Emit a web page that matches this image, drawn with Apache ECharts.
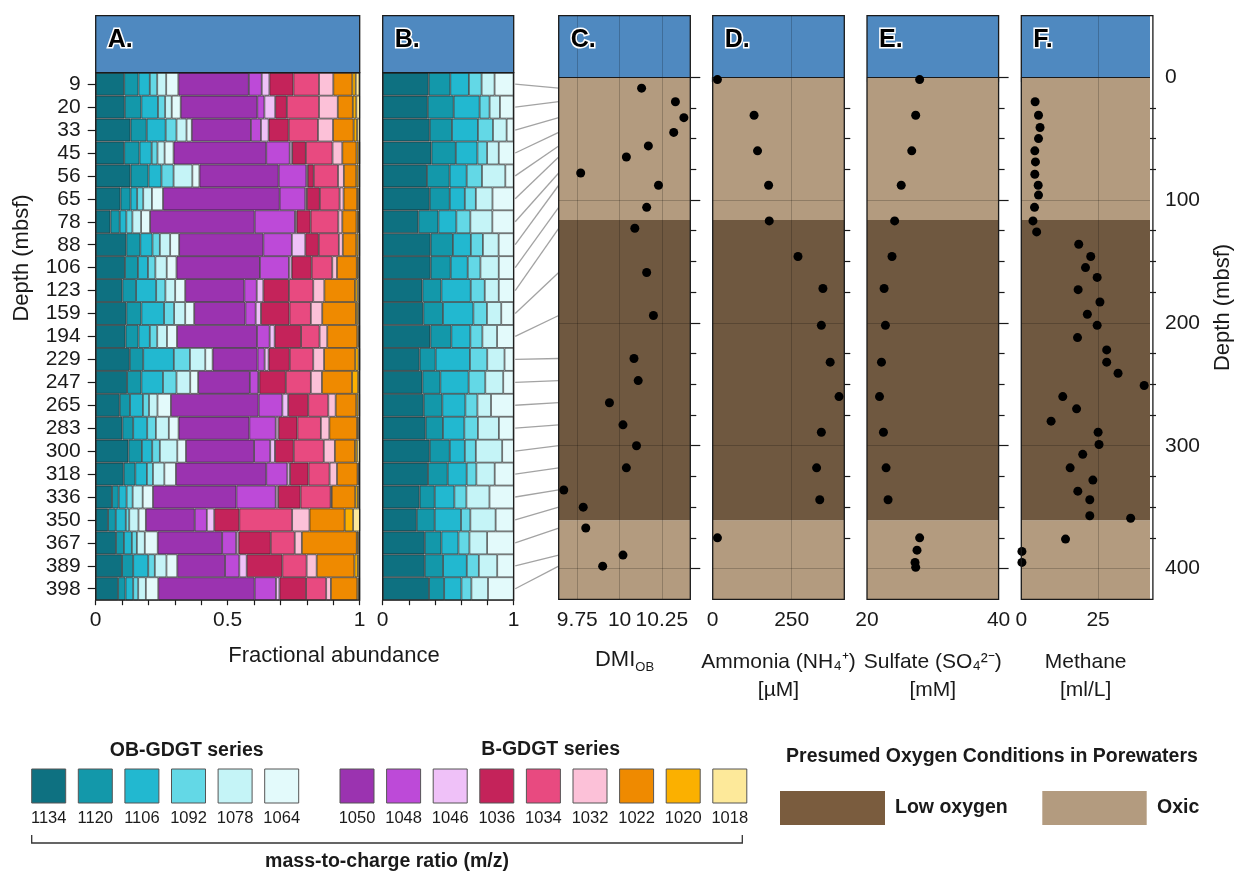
<!DOCTYPE html>
<html>
<head>
<meta charset="utf-8">
<script src="https://cdn.jsdelivr.net/npm/echarts@6/dist/echarts.min.js"></script>
<style>
  html, body { margin: 0; padding: 0; background: #ffffff; }
  #chart { width: 1235px; height: 877px; }
</style>
</head>
<body>
<div id="chart"></div>
<script>
const FONT = '"Liberation Sans", Arial, Helvetica, sans-serif';

// ---- sample depths (mbsf) ----
const depthLabels = ['9','20','33','45','56','65','78','88','106','123','159','194','229','247','265','283','300','318','336','350','367','389','398'];
const sampleDepths = [9,20,33,45,56,65,78,88,106,123,159,194,229,247,265,283,300,318,336,350,367,389,398];

// ---- A: fractional abundance of all GDGTs, by m/z ----
const a1134 = [.108,.110,.132,.108,.132,.094,.056,.116,.111,.101,.116,.113,.129,.119,.091,.101,.124,.106,.062,.047,.077,.100,.085];
const a1120 = [.054,.063,.061,.058,.068,.038,.035,.053,.049,.052,.057,.049,.051,.054,.039,.041,.051,.044,.025,.029,.030,.042,.028];
const a1106 = [.043,.063,.072,.046,.049,.025,.025,.046,.038,.076,.086,.043,.116,.082,.049,.053,.039,.044,.030,.038,.030,.057,.029];
const a1092 = [.028,.027,.041,.022,.046,.023,.023,.028,.028,.035,.038,.028,.061,.051,.023,.033,.029,.023,.023,.013,.019,.025,.019];
const a1078 = [.034,.025,.038,.027,.071,.033,.033,.039,.043,.037,.042,.037,.058,.052,.032,.049,.066,.043,.038,.035,.030,.044,.029];
const a1064 = [.046,.034,.020,.034,.027,.042,.034,.034,.037,.038,.034,.038,.028,.030,.051,.037,.033,.044,.039,.028,.049,.041,.047];
const a1050 = [.267,.290,.224,.351,.300,.442,.396,.319,.316,.224,.194,.303,.170,.196,.332,.268,.258,.342,.316,.185,.244,.181,.365];
const a1048 = [.049,.027,.038,.089,.105,.097,.153,.108,.110,.047,.039,.048,.027,.032,.090,.100,.061,.080,.149,.046,.053,.054,.081];
const a1046 = [.029,.041,.029,.009,.005,.006,.006,.051,.010,.025,.020,.019,.015,.004,.022,.010,.018,.010,.009,.028,.009,.028,.013];
const a1036 = [.091,.044,.076,.052,.023,.049,.053,.051,.076,.097,.108,.100,.080,.100,.076,.072,.071,.070,.085,.095,.122,.135,.101];
const a1034 = [.097,.122,.111,.101,.092,.075,.105,.076,.078,.092,.081,.070,.089,.095,.076,.089,.114,.080,.114,.200,.091,.092,.076];
const a1032 = [.054,.071,.057,.037,.022,.015,.015,.015,.018,.042,.043,.029,.041,.042,.028,.032,.042,.028,.004,.066,.027,.038,.018];
const a1022 = [.072,.057,.078,.054,.047,.051,.054,.051,.075,.116,.128,.114,.118,.114,.078,.105,.076,.078,.089,.133,.208,.143,.100];
const a1020 = [.013,.013,.013,.008,.008,.006,.006,.008,.006,.010,.008,.006,.013,.023,.008,.006,.009,.004,.010,.032,.006,.013,.006];
const a1018 = [.014,.014,.010,.006,.006,.004,.004,.006,.004,.006,.006,.004,.006,.006,.006,.004,.010,.004,.006,.027,.004,.006,.004];

// ---- B: fractional abundance within the OB-GDGT series ----
const b1134 = [.351,.344,.359,.372,.338,.359,.272,.366,.366,.303,.310,.364,.282,.303,.313,.328,.359,.346,.282,.260,.321,.321,.354];
const b1120 = [.165,.198,.170,.186,.173,.153,.153,.170,.153,.145,.150,.160,.122,.137,.142,.132,.153,.150,.115,.137,.127,.140,.115];
const b1106 = [.142,.198,.198,.165,.130,.115,.137,.137,.130,.224,.232,.145,.262,.216,.176,.163,.115,.145,.150,.201,.130,.181,.132];
const b1092 = [.097,.076,.115,.074,.117,.084,.107,.092,.097,.107,.104,.092,.132,.127,.092,.104,.084,.074,.092,.071,.084,.092,.076];
const b1078 = [.099,.079,.104,.089,.178,.127,.168,.120,.140,.107,.109,.112,.132,.137,.104,.160,.201,.140,.176,.193,.135,.140,.127];
const b1064 = [.145,.104,.053,.115,.064,.163,.163,.115,.115,.115,.094,.127,.069,.079,.173,.112,.089,.145,.186,.137,.204,.127,.196];

// ---- C: DMI_OB at each sample depth ----
const dmiOB = [10.13,10.33,10.38,10.32,10.17,10.04,9.77,10.23,10.16,10.09,10.16,10.20,10.085,10.11,9.94,10.02,10.10,10.04,9.67,9.785,9.80,10.02,9.90];

// ---- D–F: porewater profiles ----
const ammoniaDepth = [2,31,60,88,117,146,172,202,232,260,289,318,344,375];
const ammonia      = [15,131,142,177,179,270,349,344,372,400,344,329,339,15];
const sulfateDepth = [2,31,60,88,117,146,172,202,232,260,289,318,344,375,385,395,399];
const sulfate      = [28.0,27.4,26.8,25.2,24.2,23.8,22.6,22.8,22.2,21.9,22.5,22.9,23.2,28.0,27.6,27.3,27.4];
const methaneDepth = [20,31,41,50,60,69,79,88,96,106,117,126,136,146,155,163,173,183,193,202,212,222,232,241,251,260,270,280,289,299,307,318,328,337,344,357,359,376,386,395];
const methane      = [4.5,5.6,6.1,5.6,4.4,4.6,4.4,5.5,5.6,4.3,3.8,5.0,18.7,22.6,20.9,24.7,18.5,25.6,21.5,24.7,18.3,27.8,27.8,31.5,40.0,13.5,18.0,9.7,25.0,25.3,20.0,15.9,23.3,18.4,22.3,22.3,35.6,14.4,0.2,0.2];

// ---- oxygen zones (depth ranges, mbsf) ----
const oxicZones = [[0, 116.3], [360.7, 425]];
const lowOxygenZones = [[116.3, 360.7]];

// ---- tick labels ----
const fracLabelsA = [0, 0.5, 1];
const fracLabelsB = [0, 1];
const dmiLabels = [9.75, 10, 10.25];
const ammoniaLabels = [0, 250];
const sulfateLabels = [20, 40];
const methaneLabels = [0, 25];
const depthLabelsRight = [0, 100, 200, 300, 400];

// ---- m/z series ----
const obSeries = [
  { mz: '1134', color: '#0e7181', a: a1134, b: b1134 },
  { mz: '1120', color: '#1398aa', a: a1120, b: b1120 },
  { mz: '1106', color: '#22b8d0', a: a1106, b: b1106 },
  { mz: '1092', color: '#63d8e6', a: a1092, b: b1092 },
  { mz: '1078', color: '#c5f4f7', a: a1078, b: b1078 },
  { mz: '1064', color: '#e3fafb', a: a1064, b: b1064 }
];
const brSeries = [
  { mz: '1050', color: '#9b33b0', a: a1050 },
  { mz: '1048', color: '#bd4ad8', a: a1048 },
  { mz: '1046', color: '#efc1f8', a: a1046 },
  { mz: '1036', color: '#c4235a', a: a1036 },
  { mz: '1034', color: '#e84a80', a: a1034 },
  { mz: '1032', color: '#fcc1d8', a: a1032 },
  { mz: '1022', color: '#ef8a00', a: a1022 },
  { mz: '1020', color: '#fbb000', a: a1020 },
  { mz: '1018', color: '#fde99a', a: a1018 }
];

const HEADER_BLUE = '#4f89c0';
const OXIC = '#b39b7f';
const LOW_OX = '#6f5840';
const LOW_OX_KEY = '#7a5c3e';
const INK = '#1a1a1a';

// ---- layout ----
const headTop = 15.7;
const gridA = { left: 95.7, top: 72.7, width: 264, height: 527.5 };
const gridB = { left: 382.7, top: 72.7, width: 131, height: 527.5 };
const profTop = 15.7, profHeight = 583.6;
const profLefts = [558.7, 712.7, 867, 1021.3];
const profWidth = 131.6;

function steps(a, b, s) {
  const out = [];
  for (let v = a; v <= b + 1e-9; v += s) out.push(+v.toFixed(4));
  return out;
}
const fmt = v => String(+(+v).toFixed(2));

const grids = [
  gridA, gridB,
  ...profLefts.map(l => ({ left: l, top: profTop, width: profWidth, height: profHeight }))
];

const tickStyle = { lineStyle: { color: INK, width: 1.2 } };
const labelStyle = { fontFamily: FONT, fontSize: 21, color: INK };

function xAxisDef(gridIndex, min, max, tickVals, labelVals, name, nameGap, nameStyle) {
  return {
    type: 'value', gridIndex, min, max,
    axisLine: { show: false },
    splitLine: { show: false },
    axisTick: Object.assign({ show: true, length: 5, customValues: tickVals }, tickStyle),
    axisLabel: Object.assign({ customValues: labelVals, formatter: fmt, margin: 10 }, labelStyle),
    name, nameLocation: 'middle', nameGap,
    nameTextStyle: Object.assign({ fontFamily: FONT, fontSize: 21, color: INK, lineHeight: 28 }, nameStyle || {})
  };
}

const xAxes = [
  xAxisDef(0, 0, 1, steps(0, 1, 0.1), fracLabelsA, '', 44),
  xAxisDef(1, 0, 1, steps(0, 1, 0.2), fracLabelsB, '', 40),
  xAxisDef(2, 9.64, 10.418, steps(9.65, 10.4, 0.05), dmiLabels, '{m|DMI}{s|OB}', 47, {
    rich: {
      m: { fontFamily: FONT, fontSize: 22, color: INK, lineHeight: 28 },
      s: { fontFamily: FONT, fontSize: 13, color: INK, verticalAlign: 'bottom', lineHeight: 12 }
    }
  }),
  xAxisDef(3, 0, 416.7, steps(0, 400, 50), ammoniaLabels, 'Ammonia (NH\u2084\u207A)\n[\u00B5M]', 49),
  xAxisDef(4, 20, 40, steps(20, 40, 5), sulfateLabels, 'Sulfate (SO\u2084\u00B2\u207B)\n[mM]', 49),
  xAxisDef(5, 0, 41.9, steps(0, 40, 5), methaneLabels, 'Methane\n[ml/L]', 49)
];

const minorDepth = steps(25, 375, 25).filter(v => v % 100 !== 0);

const yAxes = [
  {
    type: 'category', gridIndex: 0, data: depthLabels, inverse: true,
    axisLine: { show: false },
    axisTick: Object.assign({ show: true, alignWithLabel: true, interval: 0, length: 8 }, tickStyle),
    axisLabel: Object.assign({ margin: 15, interval: 0 }, labelStyle)
  },
  {
    type: 'category', gridIndex: 1, data: depthLabels, inverse: true,
    axisLine: { show: false }, axisTick: { show: false }, axisLabel: { show: false }
  }
];
// major depth ticks (labels only on the last panel) and minor depth ticks, per profile panel
for (let p = 0; p < 4; p++) {
  yAxes.push({
    type: 'value', gridIndex: 2 + p, min: -50, max: 425, inverse: true, position: 'right',
    axisLine: { show: false }, splitLine: { show: false },
    axisTick: Object.assign({ show: true, length: p === 3 ? 12 : 10, customValues: depthLabelsRight }, tickStyle),
    axisLabel: Object.assign({ show: p === 3, customValues: depthLabelsRight, margin: 15 }, labelStyle),
    name: p === 3 ? 'Depth (mbsf)' : '', nameLocation: 'middle', nameGap: 62, nameRotate: 90,
    nameTextStyle: { fontFamily: FONT, fontSize: 22, color: INK }
  });
}
for (let p = 0; p < 4; p++) {
  yAxes.push({
    type: 'value', gridIndex: 2 + p, min: -50, max: 425, inverse: true, position: 'right',
    axisLine: { show: false }, splitLine: { show: false },
    axisTick: Object.assign({ show: true, length: 6, customValues: minorDepth }, tickStyle),
    axisLabel: { show: false }
  });
}

const series = [];
const barBorder = { borderColor: 'rgba(35,35,35,0.8)', borderWidth: 0.8 };

[...obSeries, ...brSeries].forEach(s => {
  series.push({
    type: 'bar', name: s.mz, stack: 'all', xAxisIndex: 0, yAxisIndex: 0,
    barWidth: '100%', data: s.a,
    itemStyle: Object.assign({ color: s.color }, barBorder)
  });
});
obSeries.forEach(s => {
  series.push({
    type: 'bar', name: s.mz + ' OB', stack: 'ob', xAxisIndex: 1, yAxisIndex: 1,
    barWidth: '100%', data: s.b,
    itemStyle: Object.assign({ color: s.color }, barBorder)
  });
});

// profile panels: background zones, grid lines, points
const profiles = [
  { x: dmiOB, y: sampleDepths, vLines: dmiLabels },
  { x: ammonia, y: ammoniaDepth, vLines: [250] },
  { x: sulfate, y: sulfateDepth, vLines: [] },
  { x: methane, y: methaneDepth, vLines: [25] }
];
profiles.forEach((pr, p) => {
  const xi = 2 + p, yi = 2 + p;
  const zones = [[{ yAxis: -50, itemStyle: { color: HEADER_BLUE } }, { yAxis: 0 }]];
  oxicZones.forEach(z => zones.push([{ yAxis: z[0], itemStyle: { color: OXIC } }, { yAxis: z[1] }]));
  lowOxygenZones.forEach(z => zones.push([{ yAxis: z[0], itemStyle: { color: LOW_OX } }, { yAxis: z[1] }]));
  series.push({
    type: 'line', xAxisIndex: xi, yAxisIndex: yi, data: [], z: 1, silent: true,
    markArea: { silent: true, data: zones, itemStyle: { opacity: 1 } }
  });
  const grid = [];
  pr.vLines.forEach(v => grid.push({ xAxis: v }));
  [100, 200, 300, 400].forEach(v => grid.push({ yAxis: v }));
  series.push({
    type: 'line', xAxisIndex: xi, yAxisIndex: yi, data: [], z: 2, silent: true,
    markLine: {
      silent: true, symbol: 'none', label: { show: false },
      lineStyle: { color: 'rgba(0,0,0,0.2)', width: 1, type: 'solid' },
      data: grid.concat([{ yAxis: 0, lineStyle: { color: INK, width: 1.2 } }])
    }
  });
  series.push({
    type: 'scatter', xAxisIndex: xi, yAxisIndex: yi, z: 5,
    symbolSize: 9, itemStyle: { color: '#000', opacity: 1 },
    data: pr.x.map((v, i) => [v, pr.y[i]])
  });
});

// ---- static graphics: headers, frames, panel letters, keys ----
const G = [];
function rect(x, y, w, h, style, z) {
  G.push({ type: 'rect', shape: { x, y, width: w, height: h }, style, z: z || 50, silent: true });
}
function text(x, y, str, opt) {
  G.push(Object.assign({ type: 'text', x, y, silent: true, z: 60,
    style: Object.assign({ text: str, fontFamily: FONT, fill: INK, textAlign: 'center', textVerticalAlign: 'middle' }, opt.style || {}) },
    opt.el || {}));
}
const frame = { fill: null, stroke: INK, lineWidth: 1.3 };

[gridA, gridB].forEach(g => {
  rect(g.left, headTop, g.width, g.top - headTop, { fill: HEADER_BLUE, stroke: INK, lineWidth: 1.3 }, 40);
  rect(g.left, g.top, g.width, g.height, frame, 100);
});
profLefts.forEach(l => rect(l, profTop, profWidth, profHeight, frame, 100));

const letters = ['A.', 'B.', 'C.', 'D.', 'E.', 'F.'];
const letterLefts = [gridA.left, gridB.left, ...profLefts];
letters.forEach((t, i) => {
  text(letterLefts[i] + 12, 40, t, { style: {
    fontSize: 25, fontWeight: 'bold', fill: '#000', stroke: '#fff', lineWidth: 3,
    textAlign: 'left'
  } });
});

text(22, 258, 'Depth (mbsf)', { style: { fontSize: 22 }, el: { rotation: Math.PI / 2 } });
text(334, 656, 'Fractional abundance', { style: { fontSize: 22 } });

// m/z colour key
const keyX0 = 31.7, keyStep = 46.6, keyY = 769, keyS = 34;
obSeries.forEach((s, i) => {
  const x = keyX0 + i * keyStep;
  rect(x, keyY, keyS, keyS, { fill: s.color, stroke: '#555', lineWidth: 1 });
  text(x + keyS / 2, 818, s.mz, { style: { fontSize: 16.5 } });
});
const brX0 = 340;
brSeries.forEach((s, i) => {
  const x = brX0 + i * keyStep;
  rect(x, keyY, keyS, keyS, { fill: s.color, stroke: '#555', lineWidth: 1 });
  text(x + keyS / 2, 818, s.mz, { style: { fontSize: 16.5 } });
});
text(186.7, 750.5, 'OB-GDGT series', { style: { fontSize: 19.5, fontWeight: 'bold' } });
text(550.7, 750, 'B-GDGT series', { style: { fontSize: 19.5, fontWeight: 'bold' } });
G.push({ type: 'polyline', silent: true, z: 60,
  shape: { points: [[31.7, 835], [31.7, 843], [742.3, 843], [742.3, 835]] },
  style: { stroke: '#333', lineWidth: 1.3, fill: null } });
text(387, 862, 'mass-to-charge ratio (m/z)', { style: { fontSize: 19.5, fontWeight: 'bold' } });

// oxygen key
text(992, 757, 'Presumed Oxygen Conditions in Porewaters', { style: { fontSize: 19.5, fontWeight: 'bold' } });
rect(780, 791, 105, 34, { fill: LOW_OX_KEY });
text(895, 808, 'Low oxygen', { style: { fontSize: 19.5, fontWeight: 'bold', textAlign: 'left' } });
rect(1042.3, 791, 104.4, 34, { fill: OXIC });
text(1157, 808, 'Oxic', { style: { fontSize: 19.5, fontWeight: 'bold', textAlign: 'left' } });

const chart = echarts.init(document.getElementById('chart'), null, { renderer: 'canvas' });
chart.setOption({
  animation: false,
  backgroundColor: '#ffffff',
  grid: grids,
  xAxis: xAxes,
  yAxis: yAxes,
  series,
  graphic: G
});

// connectors: each sample row in B to its depth on the DMI panel
const connectors = depthLabels.map((lab, i) => {
  const p1 = chart.convertToPixel({ xAxisIndex: 1, yAxisIndex: 1 }, [1, lab]);
  const p2 = chart.convertToPixel({ xAxisIndex: 2, yAxisIndex: 2 }, [9.64, sampleDepths[i]]);
  return { type: 'line', silent: true, z: 30,
    shape: { x1: p1[0] + 1.5, y1: p1[1], x2: p2[0], y2: p2[1] },
    style: { stroke: '#a3a3a3', lineWidth: 1.3 } };
});
chart.setOption({ graphic: G.concat(connectors) });
</script>
</body>
</html>
